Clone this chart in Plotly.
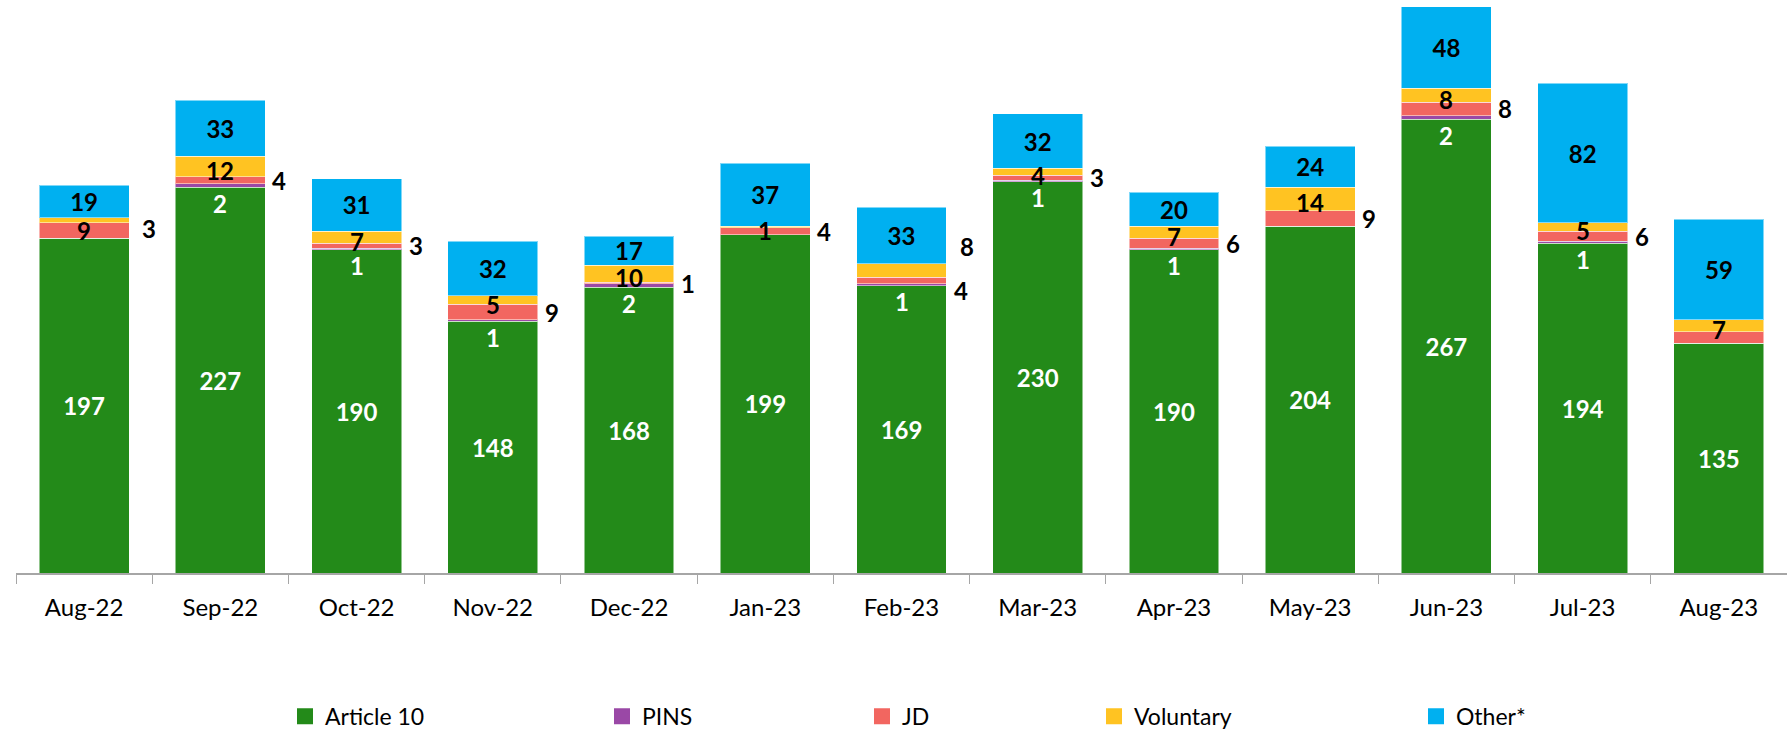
import plotly.graph_objects as go

months = ["Aug-22", "Sep-22", "Oct-22", "Nov-22", "Dec-22", "Jan-23", "Feb-23",
          "Mar-23", "Apr-23", "May-23", "Jun-23", "Jul-23", "Aug-23"]
article10 = [197, 227, 190, 148, 168, 199, 169, 230, 190, 204, 267, 194, 135]
pins = [0, 2, 1, 1, 2, 0, 1, 1, 1, 0, 2, 1, 0]
jd = [9, 4, 3, 9, 1, 4, 4, 3, 6, 9, 8, 6, 7]
voluntary = [3, 12, 7, 5, 10, 1, 8, 4, 7, 14, 8, 5, 7]
other = [19, 33, 31, 32, 17, 37, 33, 32, 20, 24, 48, 82, 59]
series_names = ["Article 10", "PINS", "JD", "Voluntary", "Other*"]

# which small series is labelled inside the bar ("in") or to the right ("right"), or hidden
jd_label = ["in", "right", "right", "right", "right", "right", "right", "right", "right", "right", "right", "right", None]
vol_label = ["right", "in", "in", "in", "in", "in", "right", "in", "in", "in", "in", "in", "in"]

GREEN = "#238A19"
PURPLE = "#9A48A6"
RED = "#F26660"
YELLOW = "#FFC322"
BLUE = "#00B0F0"
colors = [GREEN, PURPLE, RED, YELLOW, BLUE]
FONT = "Lato"
LSIZE = 24

# legend entry left positions (pixels from page left)
legend_px = [285, 602, 862, 1094, 1416]

fig = go.Figure()
data = [article10, pins, jd, voluntary, other]
for k, (name, vals, col) in enumerate(zip(series_names, data, colors)):
    kw = {}
    if name == "Article 10":
        kw = dict(text=vals, textposition="inside", insidetextanchor="middle", textangle=0,
                  textfont=dict(color="white", size=LSIZE, family=FONT, weight="bold"))
    elif name == "Other*":
        kw = dict(text=vals, textposition="inside", insidetextanchor="middle", textangle=0,
                  textfont=dict(color="black", size=LSIZE, family=FONT, weight="bold"))
    fig.add_bar(x=months, y=vals, name=name, marker_color=col, showlegend=False,
                marker_line_width=1, marker_line_color="rgba(255,255,255,0.5)", **kw)

# legend entries with larger square symbols, each in its own legend
legend_layout = {}
for k, (name, col) in enumerate(zip(series_names, colors)):
    lname = "legend" if k == 0 else f"legend{k + 1}"
    fig.add_scatter(x=[None], y=[None], mode="markers", name=name, legend=lname,
                    marker=dict(symbol="square", size=16, color=col))
    legend_layout[lname] = dict(orientation="h", x=(legend_px[k] - 16) / 1771, xanchor="left",
                                y=-0.25, yanchor="middle", bgcolor="rgba(0,0,0,0)",
                                font=dict(size=23, family=FONT))

lab_font = dict(color="black", size=LSIZE, family=FONT, weight="bold")
for i, m in enumerate(months):
    g = article10[i]
    p_top = g + pins[i]
    j_top = p_top + jd[i]
    if pins[i] > 0:
        fig.add_annotation(x=m, y=g, text=str(pins[i]), showarrow=False, yshift=-16,
                           font=dict(color="white", size=LSIZE, family=FONT, weight="bold"))
    jd_c = p_top + jd[i] / 2
    vol_c = j_top + voluntary[i] / 2
    if jd_label[i] == "in":
        fig.add_annotation(x=m, y=jd_c, text=str(jd[i]), showarrow=False, font=lab_font)
    elif jd_label[i] == "right":
        ys = -10 if vol_label[i] == "right" else 0
        fig.add_annotation(x=m, y=jd_c, text=str(jd[i]), showarrow=False, font=lab_font,
                           xanchor="left", xshift=50, yshift=ys)
    if vol_label[i] == "in":
        fig.add_annotation(x=m, y=vol_c, text=str(voluntary[i]), showarrow=False, font=lab_font,
                           yshift=-4)
    elif vol_label[i] == "right":
        ys = 24 if jd_label[i] == "right" else -8
        fig.add_annotation(x=m, y=vol_c, text=str(voluntary[i]), showarrow=False, font=lab_font,
                           xanchor="left", xshift=56, yshift=ys)

fig.update_layout(
    barmode="stack",
    bargap=0.34,
    width=1787, height=729,
    margin=dict(l=16, r=0, t=0, b=156, autoexpand=False),
    plot_bgcolor="white", paper_bgcolor="white",
    font=dict(family=FONT, size=22, color="black"),
    uniformtext=dict(minsize=LSIZE, mode="show"),
    showlegend=True,
    **legend_layout,
)
fig.update_xaxes(showline=True, linecolor="#A6A6A6", linewidth=1.5, ticks="outside",
                 tickson="boundaries", ticklen=9, tickcolor="#A6A6A6", ticklabelstandoff=12,
                 tickfont=dict(size=24, family=FONT), range=[-0.5, 12.5])
fig.update_yaxes(visible=False, range=[0, 337])

fig.write_html("out.html", config={"displayModeBar": False},
               post_script="document.body.style.margin='0';document.body.style.overflow='hidden';")
